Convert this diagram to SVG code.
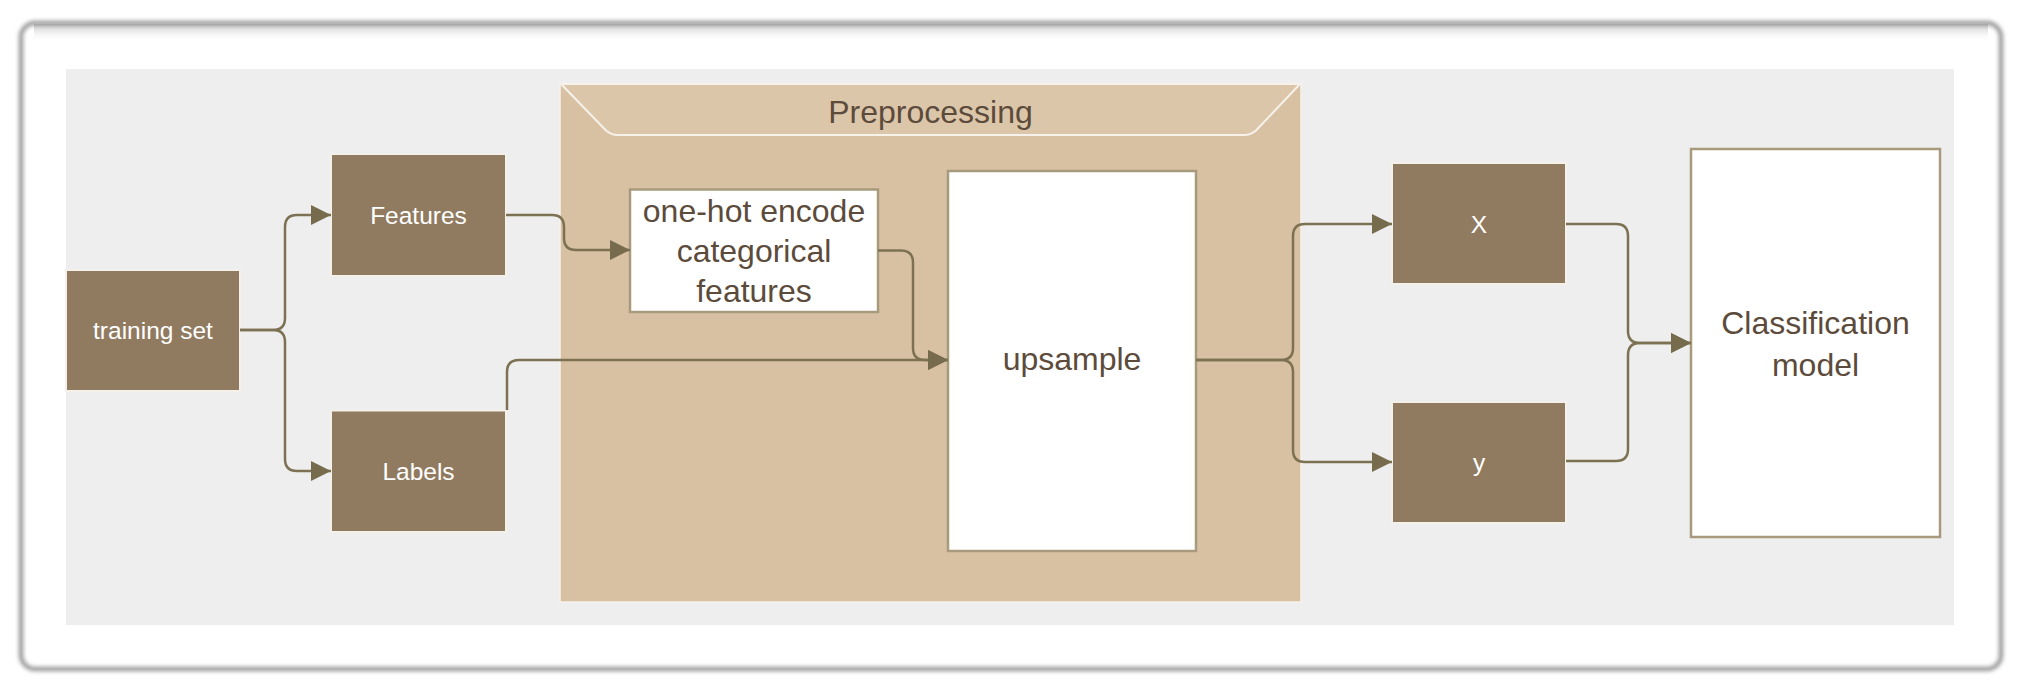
<svg xmlns="http://www.w3.org/2000/svg" width="2028" height="688" viewBox="0 0 2028 688">
  <defs>
    <style>
      .dark { fill: #917b60; stroke: #f4f0ea; stroke-width: 2; }
      .white { fill: #ffffff; stroke: #a89b7d; stroke-width: 2.5; }
      .tw { font-family: "Liberation Sans", Arial, sans-serif; font-size: 24.5px; fill: #ffffff; text-anchor: middle; }
      .tb { font-family: "Liberation Sans", Arial, sans-serif; font-size: 32px; fill: #5c4b3b; text-anchor: middle; }
      .conn { fill: none; stroke: #7c7152; stroke-width: 2.5; }
    </style>
    <marker id="arrow" viewBox="0 0 20 20" refX="20" refY="10" markerWidth="20" markerHeight="20" markerUnits="userSpaceOnUse" orient="auto">
      <path d="M0,0 L20,10 L0,20 Z" fill="#766b4c"/>
    </marker>
    <filter id="blur" x="-5%" y="-5%" width="110%" height="110%">
      <feGaussianBlur stdDeviation="2.2"/>
    </filter>
    <linearGradient id="topShade" x1="0" y1="0" x2="0" y2="1">
      <stop offset="0" stop-color="#9a9a9a" stop-opacity="0.55"/>
      <stop offset="1" stop-color="#ffffff" stop-opacity="0"/>
    </linearGradient>
  </defs>

  <rect x="0" y="0" width="2028" height="688" fill="#ffffff"/>

  <g id="frame">
    <rect x="21" y="23" width="1980" height="646" rx="14" ry="14" fill="#ffffff"/>
    <rect x="34" y="24" width="1954" height="18" fill="url(#topShade)"/>
    <rect x="21" y="23" width="1980" height="646" rx="14" ry="14" fill="none" stroke="#8e8e8e" stroke-width="4" filter="url(#blur)"/>
    <rect x="21" y="23" width="1980" height="646" rx="14" ry="14" fill="none" stroke="#b4b4b4" stroke-width="1.5"/>
  </g>

  <g id="background">
    <rect x="66" y="69" width="1888" height="556" fill="#eeeeee"/>
  </g>

  <g id="preprocessing">
    <rect x="560" y="83.5" width="741" height="518.5" fill="#d8c1a2" stroke="#f6f1ea" stroke-width="1.5"/>
    <path d="M561,84 L1300,84 L1256,130.5 Q1251,135 1244,135 L618,135 Q611,135 606,130.5 Z" fill="#dbc6aa" stroke="#f6f1ea" stroke-width="2"/>
    <text class="tb" x="930.5" y="123">Preprocessing</text>
  </g>

  <g id="training-set">
    <rect class="dark" x="66" y="270" width="174" height="121"/>
    <text class="tw" x="153" y="339">training set</text>
  </g>

  <g id="features">
    <rect class="dark" x="331" y="154" width="175" height="122"/>
    <text class="tw" x="418.5" y="224">Features</text>
  </g>

  <g id="labels">
    <rect class="dark" x="331" y="410.5" width="175" height="121.5"/>
    <text class="tw" x="418.5" y="480">Labels</text>
  </g>

  <g id="one-hot">
    <rect class="white" x="630" y="189.5" width="248" height="122.5"/>
    <text class="tb" x="754" y="222">one-hot encode</text>
    <text class="tb" x="754" y="262">categorical</text>
    <text class="tb" x="754" y="302">features</text>
  </g>

  <g id="upsample">
    <rect class="white" x="948" y="171" width="248" height="380"/>
    <text class="tb" x="1072" y="370">upsample</text>
  </g>

  <g id="X">
    <rect class="dark" x="1392" y="163" width="174" height="121"/>
    <text class="tw" x="1479" y="233">X</text>
  </g>

  <g id="y">
    <rect class="dark" x="1392" y="402" width="174" height="121"/>
    <text class="tw" x="1479" y="471">y</text>
  </g>

  <g id="classification-model">
    <rect class="white" x="1691" y="149" width="249" height="388"/>
    <text class="tb" x="1815.5" y="334">Classification</text>
    <text class="tb" x="1815.5" y="375.5">model</text>
  </g>

  <g id="connectors">
    <path class="conn" marker-end="url(#arrow)" d="M240,330 H273 Q285,330 285,318 V227 Q285,215 297,215 H331"/>
    <path class="conn" marker-end="url(#arrow)" d="M240,330 H273 Q285,330 285,342 V459 Q285,471 297,471 H331"/>
    <path class="conn" marker-end="url(#arrow)" d="M506,215 H552 Q564,215 564,227 V238 Q564,250 576,250 H630"/>
    <path class="conn" marker-end="url(#arrow)" d="M878,250.5 H901 Q913,250.5 913,262.5 V348 Q913,360 925,360 H948"/>
    <path class="conn" marker-end="url(#arrow)" d="M507,410 V372 Q507,360 519,360 H948"/>
    <path class="conn" marker-end="url(#arrow)" d="M1196,360 H1281 Q1293,360 1293,348 V236 Q1293,224 1305,224 H1392"/>
    <path class="conn" marker-end="url(#arrow)" d="M1196,360 H1281 Q1293,360 1293,372 V450 Q1293,462 1305,462 H1392"/>
    <path class="conn" marker-end="url(#arrow)" d="M1566,224 H1616 Q1628,224 1628,236 V331 Q1628,343 1640,343 H1691"/>
    <path class="conn" marker-end="url(#arrow)" d="M1566,461 H1616 Q1628,461 1628,449 V355 Q1628,343 1640,343 H1691"/>
  </g>
</svg>
